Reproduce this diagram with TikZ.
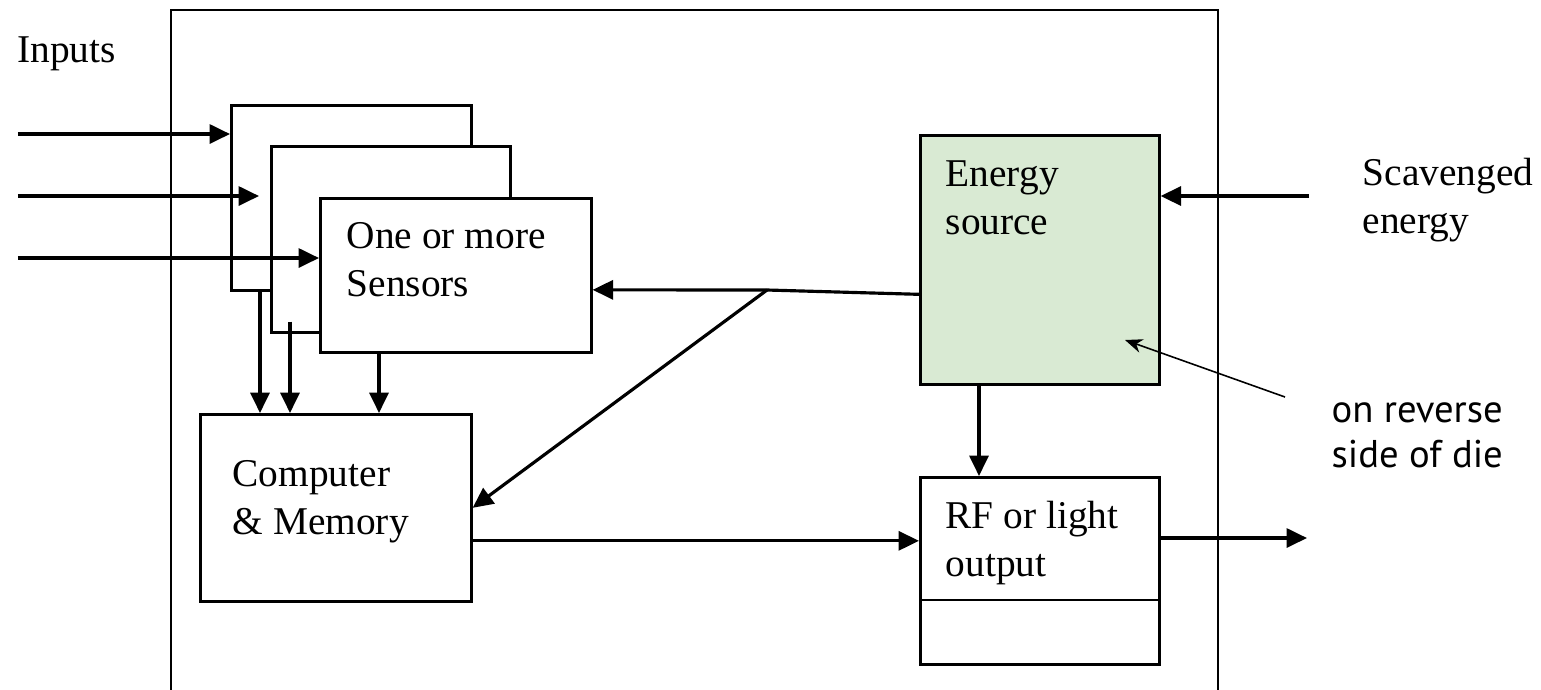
\documentclass[tikz,border=0pt]{standalone}
\usepackage{fontspec}
\setmainfont{Liberation Serif}
\newfontfamily\notefont{PT Sans}
\usepackage{xcolor}
\usetikzlibrary{positioning, arrows.meta}
\definecolor{esgreen}{RGB}{217,234,211}

\begin{document}
\begin{tikzpicture}[
  blk/.style={draw, line width=0.75pt, fill=white, anchor=north west, inner sep=0pt},
  txt/.style={anchor=north west, inner sep=0pt, align=left, font=\fontsize{11.2}{13.7}\selectfont},
  arr/.style={-{Triangle[length=5.8pt, width=5.4pt]}, line width=0.9pt},
  thinarr/.style={-{Stealth[length=5pt, width=4pt]}, line width=0.45pt}
]
\useasboundingbox (0,0) rectangle (15.41,-6.89);
\fill[white] (0,0) rectangle (15.41,-6.89);

% die outline, cut off at the bottom
\draw[line width=0.6pt] (1.71,-7.2) -- (1.71,-0.10) -- (12.18,-0.10) -- (12.18,-7.2);

\node[blk, minimum width=2.40cm, minimum height=1.85cm] (sensA) at (2.30,-1.04) {};
\node[blk, minimum width=2.39cm, minimum height=1.86cm] (sensB) at (2.70,-1.45) {};
\node[blk, minimum width=2.71cm, minimum height=1.54cm] (sensC) at (3.19,-1.97) {};
\node[blk, minimum width=2.71cm, minimum height=1.87cm] (comp) at (1.99,-4.13) {};
\node[blk, fill=esgreen, minimum width=2.39cm, minimum height=2.49cm] (energy) at (9.19,-1.34) {};
\node[blk, minimum width=2.39cm, minimum height=1.87cm] (rf) at (9.19,-4.76) {};
\draw[line width=0.75pt] (rf.west |- 0,-6.00) -- (rf.east |- 0,-6.00);

\node[txt] (inputs) at (0.166,-0.36) {Inputs};
\node[txt, below right=0.25cm and 0.27cm of sensC.north west] (sensTxt) {One or more\\Sensors};
\node[txt, below right=0.47cm and 0.33cm of comp.north west] (compTxt) {Computer\\\& Memory};
\node[txt, below right=0.26cm and 0.26cm of energy.north west] (energyTxt) {Energy\\source};
\node[txt, below right=0.24cm and 0.26cm of rf.north west] (rfTxt) {RF or light\\output};
\node[txt] (scavTxt) at (13.62,-1.57) {Scavenged\\energy};
\node[txt, font=\notefont\fontsize{11}{12.8}\selectfont] (dieTxt) at (13.31,-4.02) {on reverse\\side of die};

% inputs
\coordinate (in1) at (0.18,-1.34);
\coordinate (in2) at (0.18,-1.96);
\coordinate (in3) at (0.18,-2.58);
\draw[arr] (in1) -- (in1 -| sensA.west);
\draw[arr, shorten >=1.1mm] (in2) -- (in2 -| sensB.west);
\draw[arr] (in3) -- (in3 -| sensC.west);

% sensors to computer
\coordinate (dA) at ([xshift=3mm]sensA.south west);
\coordinate (dB) at ([xshift=2mm, yshift=1.2mm]sensB.south west);
\coordinate (dC) at ([xshift=6mm]sensC.south west);
\foreach \p in {dA, dB, dC}
  \draw[arr] (\p) -- (\p |- comp.north);

% power
\coordinate (eOut) at ([yshift=-3.45mm]energy.west);
\coordinate (split) at (7.67,-2.90);
\draw[arr] (eOut) -- (split) -- ([yshift=-1.45mm]sensC.east);
\draw[arr] (split) -- (comp.east);
\coordinate (eDown) at ([xshift=6mm]energy.south west);
\draw[arr] (eDown) -- (eDown |- rf.north);
\coordinate (scav) at (13.09,-1.96);
\draw[arr] (scav) -- (scav -| energy.east);

% output
\coordinate (cOut) at ([yshift=-3.3mm]comp.east);
\draw[arr] (cOut) -- (cOut -| rf.west);
\coordinate (rfOut) at (13.07,-5.38);
\draw[arr] (rfOut -| rf.east) -- (rfOut);

\coordinate (dieTail) at (12.85,-3.97);
\coordinate (dieTip) at (11.25,-3.40);
\draw[thinarr] (dieTail) -- (dieTip);
\end{tikzpicture}
\end{document}
